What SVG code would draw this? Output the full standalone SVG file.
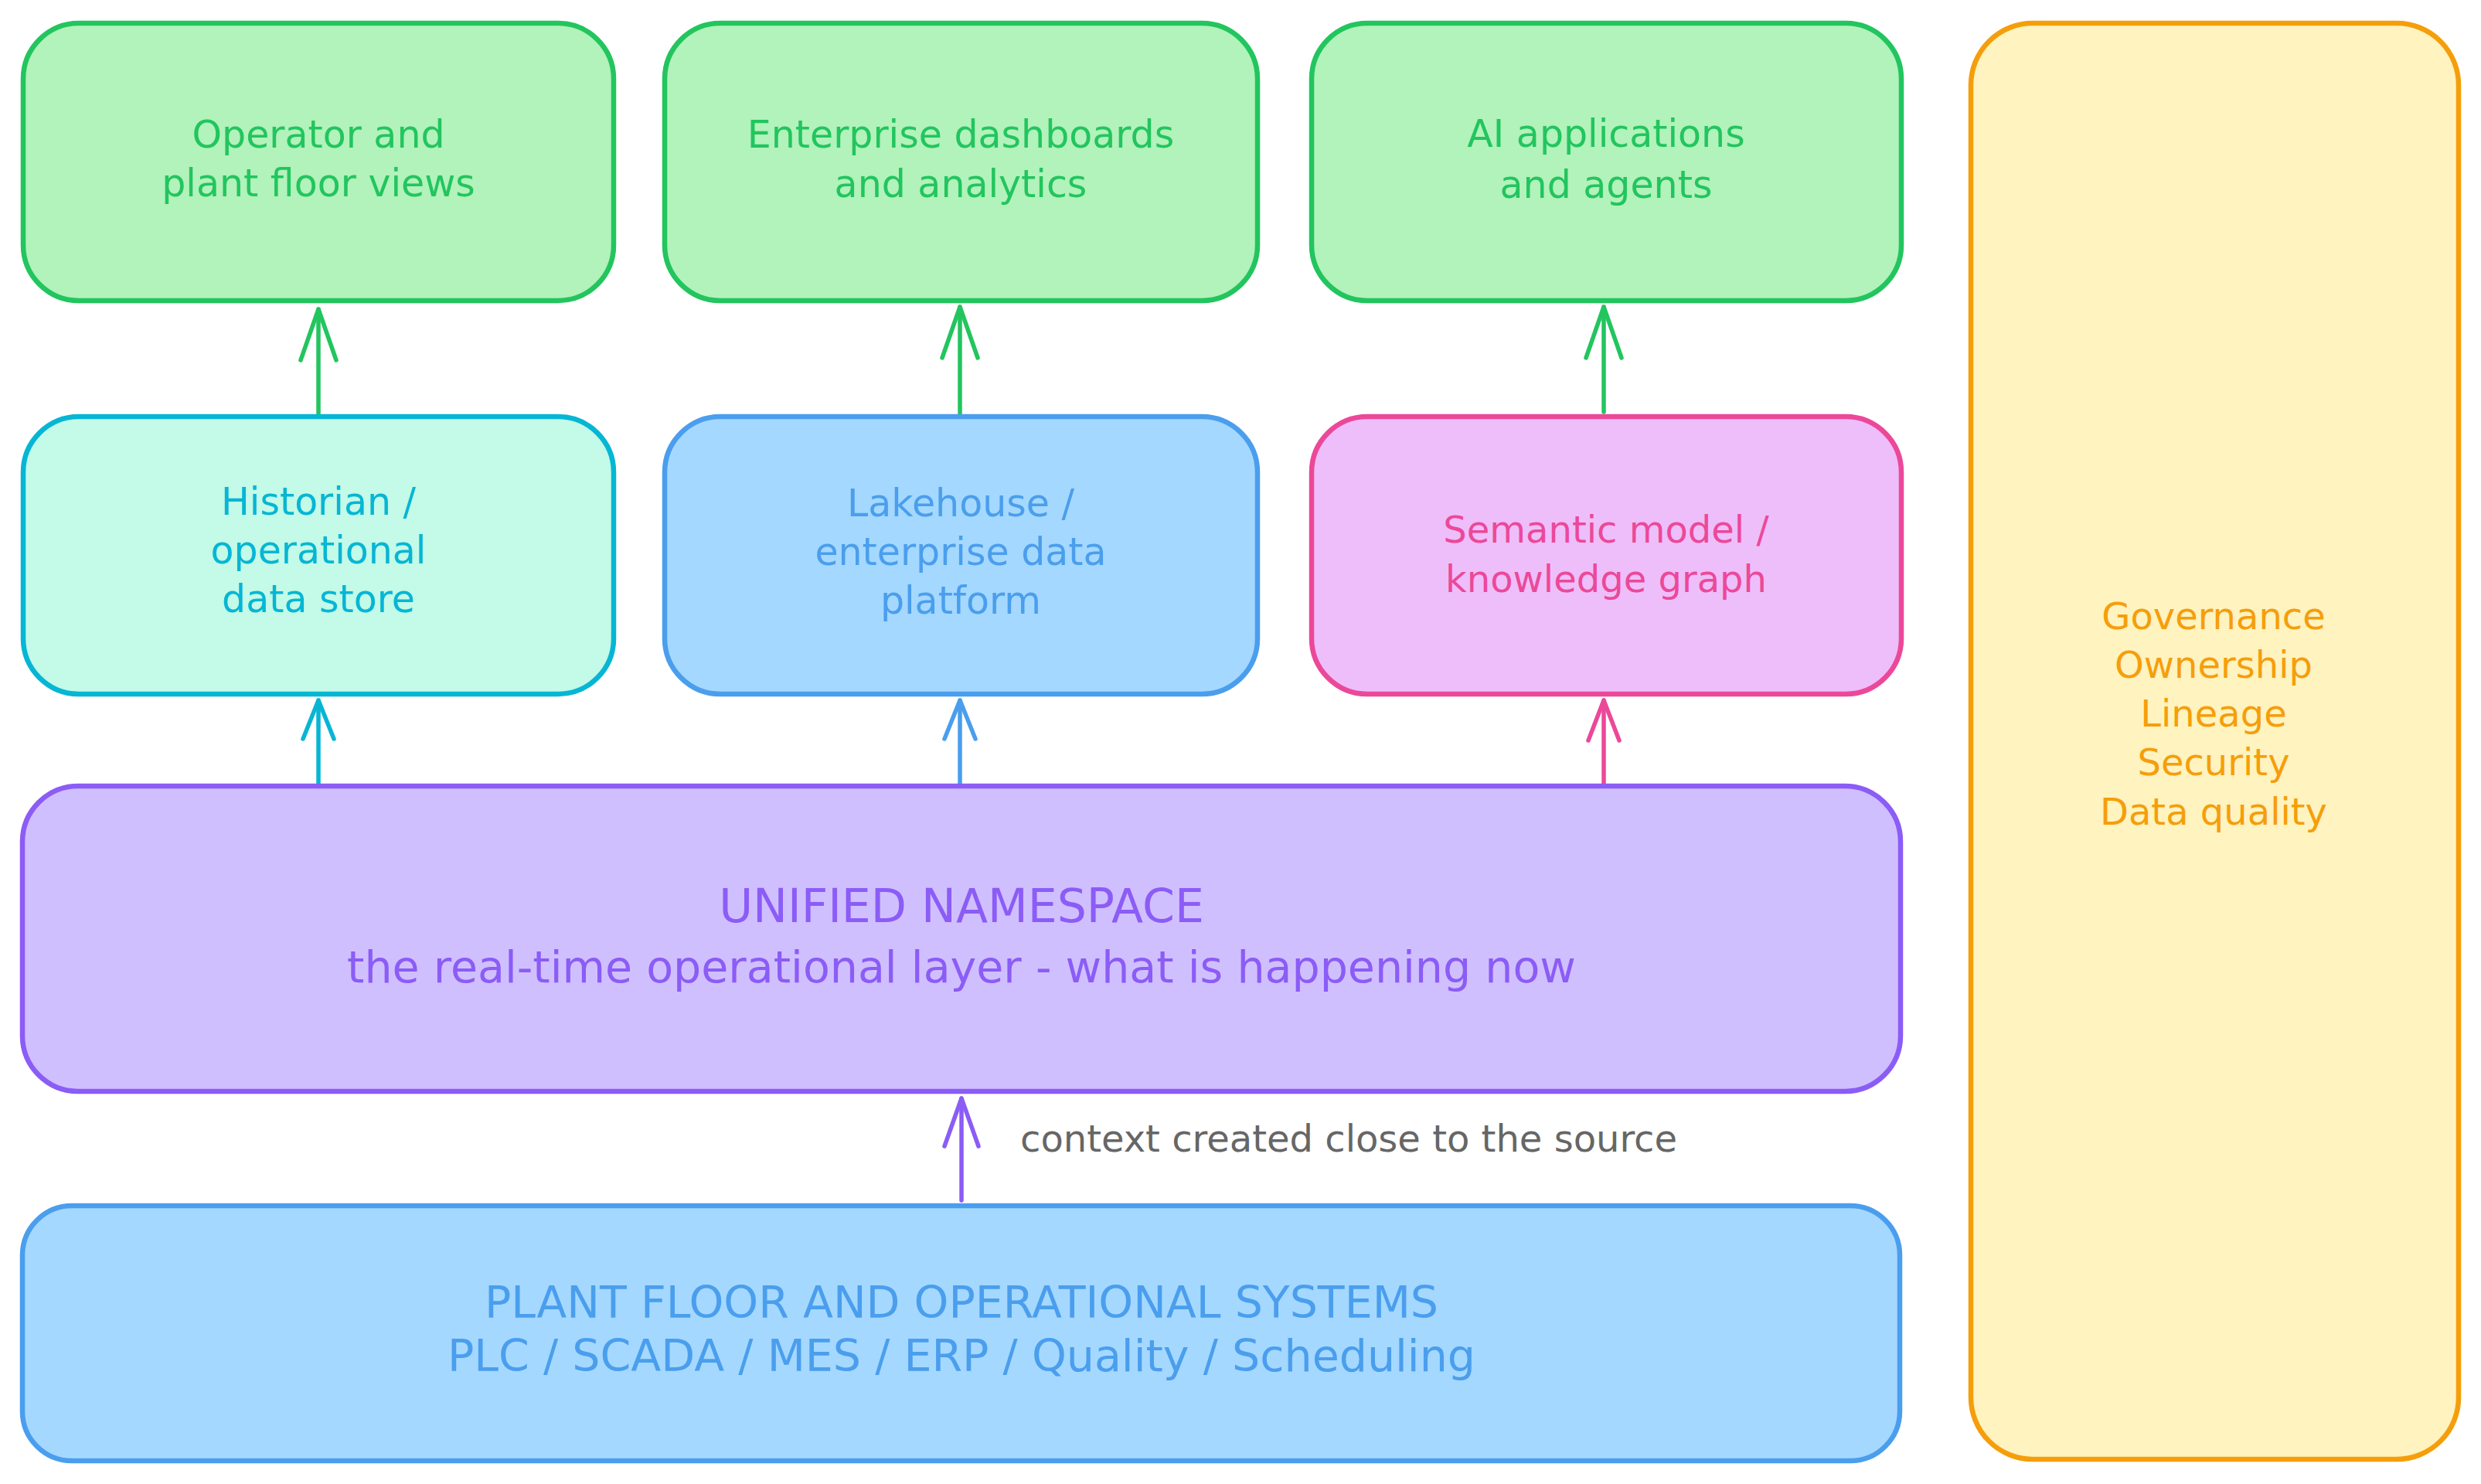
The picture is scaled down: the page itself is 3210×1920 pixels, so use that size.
<svg xmlns="http://www.w3.org/2000/svg" width="3210" height="1920" viewBox="0 0 3210 1920">
<defs>
<style>
.box{stroke-width:6.5;stroke-linejoin:round}
.green{fill:#b2f2bb;stroke:#22c55e}
.cyan{fill:#c3fae8;stroke:#06b6d4}
.blue{fill:#a5d8ff;stroke:#4a9eed}
.pink{fill:#eebefa;stroke:#ec4899}
.purple{fill:#d0bfff;stroke:#8b5cf6}
.yellow{fill:#fff3bf;stroke:#f59e0b}
text{font-family:"DejaVu Sans","Liberation Sans",sans-serif;text-anchor:middle}
.f49{font-size:49px}
.f48{font-size:48px}
.f57{font-size:57px}
.f60{font-size:60px}
.tg{fill:#22c55e}.tc{fill:#06b6d4}.tb{fill:#4a9eed}.tp{fill:#ec4899}.tv{fill:#8b5cf6}.to{fill:#f59e0b}.tk{fill:#666666}
.arrow{fill:none;stroke-width:5.5;stroke-linecap:round}
.mk{fill:none;stroke-width:5.5;stroke-linecap:round;stroke-linejoin:round}
</style>
<marker id="ah-green" markerUnits="userSpaceOnUse" markerWidth="100" markerHeight="100" refX="0" refY="0" orient="auto" overflow="visible"><path class="mk" stroke="#22c55e" d="M-66,-23 L0,0 L-66,23"/></marker>
<marker id="ah-cyan" markerUnits="userSpaceOnUse" markerWidth="100" markerHeight="100" refX="0" refY="0" orient="auto" overflow="visible"><path class="mk" stroke="#06b6d4" d="M-50,-20 L0,0 L-50,20"/></marker>
<marker id="ah-blue" markerUnits="userSpaceOnUse" markerWidth="100" markerHeight="100" refX="0" refY="0" orient="auto" overflow="visible"><path class="mk" stroke="#4a9eed" d="M-50,-20 L0,0 L-50,20"/></marker>
<marker id="ah-pink" markerUnits="userSpaceOnUse" markerWidth="100" markerHeight="100" refX="0" refY="0" orient="auto" overflow="visible"><path class="mk" stroke="#ec4899" d="M-52,-20 L0,0 L-52,20"/></marker>
<marker id="ah-purple" markerUnits="userSpaceOnUse" markerWidth="100" markerHeight="100" refX="0" refY="0" orient="auto" overflow="visible"><path class="mk" stroke="#8b5cf6" d="M-62,-22 L0,0 L-62,22"/></marker>
</defs>
<rect x="0" y="0" width="3210" height="1920" fill="#ffffff"/>

<g id="connectors">
<line class="arrow" stroke="#22c55e" x1="412" y1="535" x2="412" y2="400" marker-end="url(#ah-green)"/>
<line class="arrow" stroke="#22c55e" x1="1242" y1="535" x2="1242" y2="397" marker-end="url(#ah-green)"/>
<line class="arrow" stroke="#22c55e" x1="2075" y1="533" x2="2075" y2="397" marker-end="url(#ah-green)"/>
<line class="arrow" stroke="#06b6d4" x1="412" y1="1014" x2="412" y2="906" marker-end="url(#ah-cyan)"/>
<line class="arrow" stroke="#4a9eed" x1="1242" y1="1014" x2="1242" y2="906" marker-end="url(#ah-blue)"/>
<line class="arrow" stroke="#ec4899" x1="2075" y1="1014" x2="2075" y2="906" marker-end="url(#ah-pink)"/>
<line class="arrow" stroke="#8b5cf6" x1="1244" y1="1553" x2="1244" y2="1421" marker-end="url(#ah-purple)"/>
<text class="f48 tk" x="1320" y="1490" style="text-anchor:start">context created close to the source</text>
</g>

<g id="operator-views">
<rect class="box green" x="30" y="30" width="764" height="359" rx="72" ry="72"/>
<text class="f49 tg" x="412"><tspan x="412" y="191">Operator and</tspan><tspan x="412" y="254">plant floor views</tspan></text>
</g>

<g id="enterprise-dashboards">
<rect class="box green" x="860" y="30" width="767" height="359" rx="72" ry="72"/>
<text class="f49 tg" x="1243"><tspan x="1243" y="191">Enterprise dashboards</tspan><tspan x="1243" y="255">and analytics</tspan></text>
</g>

<g id="ai-applications">
<rect class="box green" x="1697" y="30" width="763" height="359" rx="72" ry="72"/>
<text class="f49 tg" x="2078"><tspan x="2078" y="190">AI applications</tspan><tspan x="2078" y="256">and agents</tspan></text>
</g>

<g id="historian">
<rect class="box cyan" x="30" y="539" width="764" height="359" rx="72" ry="72"/>
<text class="f49 tc" x="412"><tspan x="412" y="666">Historian /</tspan><tspan x="412" y="729">operational</tspan><tspan x="412" y="792">data store</tspan></text>
</g>

<g id="lakehouse">
<rect class="box blue" x="860" y="539" width="767" height="359" rx="72" ry="72"/>
<text class="f49 tb" x="1243"><tspan x="1243" y="668">Lakehouse /</tspan><tspan x="1243" y="731">enterprise data</tspan><tspan x="1243" y="794">platform</tspan></text>
</g>

<g id="semantic-model">
<rect class="box pink" x="1697" y="539" width="763" height="359" rx="72" ry="72"/>
<text class="f48 tp" x="2078"><tspan x="2078" y="702">Semantic model /</tspan><tspan x="2078" y="766">knowledge graph</tspan></text>
</g>

<g id="unified-namespace">
<rect class="box purple" x="29" y="1017" width="2430" height="395" rx="72" ry="72"/>
<text class="tv" x="1244"><tspan class="f60" x="1244" y="1193">UNIFIED NAMESPACE</tspan><tspan class="f57" x="1244" y="1271">the real-time operational layer - what is happening now</tspan></text>
</g>

<g id="plant-floor">
<rect class="box blue" x="29" y="1560" width="2429" height="330" rx="64" ry="64"/>
<text class="f57 tb" x="1244"><tspan x="1244" y="1705">PLANT FLOOR AND OPERATIONAL SYSTEMS</tspan><tspan x="1244" y="1774">PLC / SCADA / MES / ERP / Quality / Scheduling</tspan></text>
</g>

<g id="governance">
<rect class="box yellow" x="2550" y="30" width="631" height="1858" rx="80" ry="80"/>
<text class="f48 to" x="2864"><tspan x="2864" y="814">Governance</tspan><tspan x="2864" y="877">Ownership</tspan><tspan x="2864" y="940">Lineage</tspan><tspan x="2864" y="1003">Security</tspan><tspan x="2864" y="1067">Data quality</tspan></text>
</g>
</svg>
